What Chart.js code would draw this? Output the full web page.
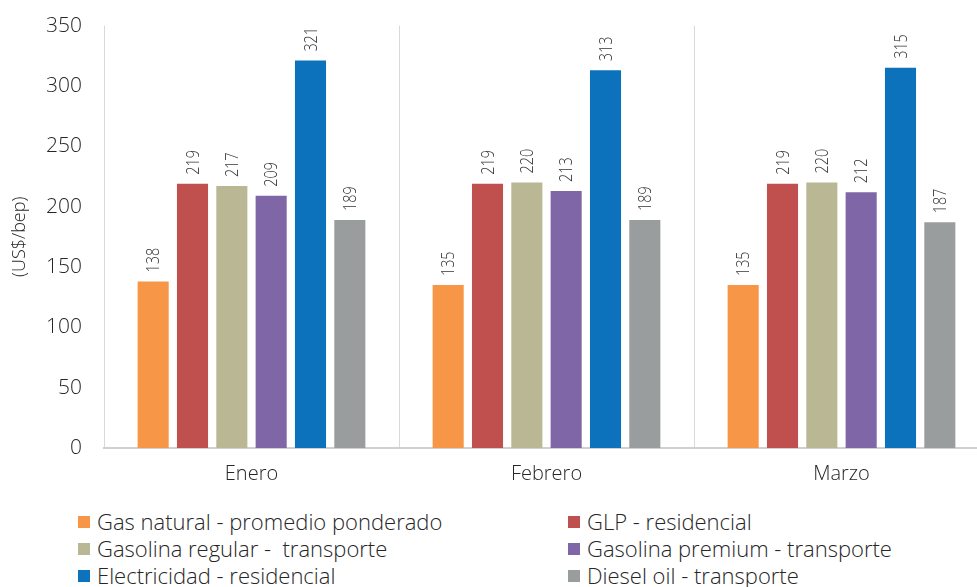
<!DOCTYPE html>
<html>
<head>
<meta charset="utf-8">
<script src="https://cdn.jsdelivr.net/npm/chart.js@4"></script>
<style>
  html, body { margin: 0; padding: 0; background: #fff; overflow: hidden; width: 977px; height: 587px; }
  #wrap { position: absolute; left: 0; top: -9px; width: 990px; height: 509px; }
  .legend { position: absolute; font-family: 'Open Sans', sans-serif; font-weight: 300; font-size: 22px; color: #262626; }
  .item { position: absolute; white-space: pre; line-height: 26px; }
  .box { position: absolute; width: 12px; height: 12px; top: 8px; }
</style>
</head>
<body>
<div id="wrap"><canvas id="chart" width="990" height="509"></canvas></div>
<div id="legend" class="legend"></div>
<script>
const months = ['Enero', 'Febrero', 'Marzo'];
const seriesNames = [
  'Gas natural - promedio ponderado',
  'GLP - residencial',
  'Gasolina regular -  transporte',
  'Gasolina premium - transporte',
  'Electricidad - residencial',
  'Diesel oil - transporte',
];
const gasNatural = [138, 135, 135];
const glp = [219, 219, 219];
const gasolinaRegular = [217, 220, 220];
const gasolinaPremium = [209, 213, 212];
const electricidad = [321, 313, 315];
const diesel = [189, 189, 187];
const colors = ['#F79646', '#C0504D', '#BAB794', '#7F66A6', '#0B72BB', '#9A9D9E'];

const seriesValues = [gasNatural, glp, gasolinaRegular, gasolinaPremium, electricidad, diesel];

// rotated value labels above each bar
const valueLabels = {
  id: 'valueLabels',
  afterDatasetsDraw(chart) {
    const ctx = chart.ctx;
    ctx.save();
    ctx.font = '300 18px "Open Sans", sans-serif';
    ctx.fillStyle = '#333';
    ctx.textAlign = 'left';
    ctx.textBaseline = 'middle';
    chart.data.datasets.forEach((ds, i) => {
      chart.getDatasetMeta(i).data.forEach((bar, j) => {
        ctx.save();
        ctx.translate(bar.x + 1, bar.y - 9);
        ctx.rotate(-Math.PI / 2);
        ctx.scale(0.8, 1);
        ctx.fillText(String(ds.data[j]), 0, 0);
        ctx.restore();
      });
    });
    ctx.restore();
  },
};

const txt = '#262626';
const chart = new Chart(document.getElementById('chart'), {
  type: 'bar',
  data: {
    labels: months,
    datasets: seriesNames.map((name, i) => ({
      label: name,
      data: seriesValues[i],
      backgroundColor: colors[i],
      categoryPercentage: 0.8,
      barPercentage: 0.79,
    })),
  },
  options: {
    responsive: false,
    animation: false,
    layout: { padding: { top: 4, right: 1, left: 0, bottom: 0 } },
    plugins: {
      legend: { display: false },
      tooltip: { enabled: false },
    },
    scales: {
      x: {
        afterFit(scale) { scale.height = 52; },
        grid: { display: true, offset: true, color: '#d9d9d9', drawTicks: false },
        border: { display: true, color: '#d0d0d0', width: 2 },
        ticks: { color: txt, padding: 14, font: { family: 'Open Sans', weight: '300', size: 20 } },
      },
      y: {
        min: 0,
        max: 350,
        afterFit(scale) { scale.width = 104; },
        grid: { display: false, drawTicks: false },
        border: { display: false },
        ticks: { stepSize: 50, color: txt, padding: 22, font: { family: 'Open Sans', weight: '300', size: 21 } },
        title: { display: true, text: '(US$/bep)', color: txt, font: { family: 'Open Sans', weight: '300', size: 18 }, padding: { top: 9, bottom: 0 } },
      },
    },
  },
  plugins: [valueLabels],
});

// legend in two columns below the chart
const legend = document.getElementById('legend');
const colX = [78, 568];
const rowY = [508, 535, 562];
seriesNames.forEach((name, i) => {
  const item = document.createElement('div');
  item.className = 'item';
  item.style.left = colX[i % 2] + 'px';
  item.style.top = rowY[Math.floor(i / 2)] + 'px';
  const box = document.createElement('span');
  box.className = 'box';
  box.style.background = colors[i];
  const text = document.createElement('span');
  text.textContent = name;
  text.style.marginLeft = '19px';
  item.appendChild(box);
  item.appendChild(text);
  legend.appendChild(item);
});
</script>
</body>
</html>
